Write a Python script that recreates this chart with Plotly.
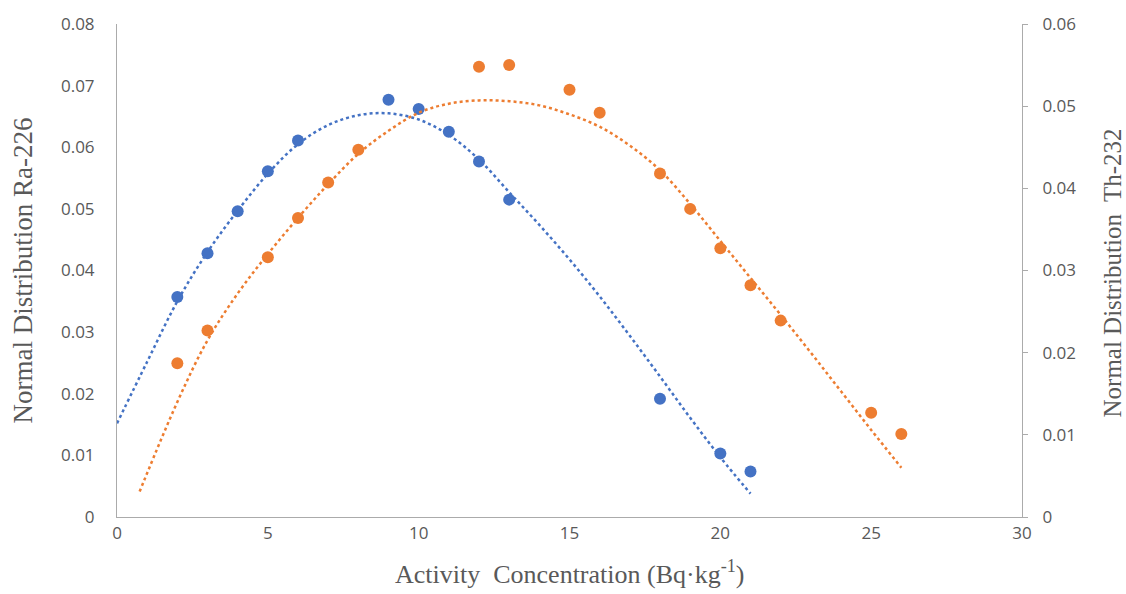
import plotly.graph_objects as go

# Ra-226 normal distribution values (left axis)
ra_x = [2, 3, 4, 5, 6, 9, 10, 11, 12, 13, 18, 20, 21]
ra_y = [0.0357, 0.0428, 0.0496, 0.0561, 0.0611, 0.0677, 0.0662, 0.0625,
        0.0577, 0.0515, 0.0192, 0.0103, 0.0074]

# Th-232 normal distribution values (right axis)
th_x = [2, 3, 5, 6, 7, 8, 12, 13, 15, 16, 18, 19, 20, 21, 22, 25, 26]
th_y = [0.0187, 0.0227, 0.0316, 0.0364, 0.0407, 0.0447, 0.0548, 0.0550,
        0.0520, 0.0492, 0.0418, 0.0375, 0.0327, 0.0282, 0.0239, 0.0127, 0.0101]

# polynomial trendline values of each series
ra_trend_x = [0, 1, 2, 3, 4, 5, 6, 7, 8, 9, 10, 11, 12, 13, 14, 15, 16, 17,
              18, 19, 20, 21]
ra_trend_y = [0.0152, 0.0252, 0.0350, 0.0430, 0.0497, 0.0557, 0.0605, 0.0636,
              0.0652, 0.0655, 0.0645, 0.0620, 0.0580, 0.0527, 0.0474, 0.0418,
              0.0358, 0.0294, 0.0228, 0.0161, 0.0097, 0.0038]
th_trend_x = [0.75, 2, 3, 4, 5, 6, 7, 8, 9, 10, 11, 12, 13, 14, 15, 16, 17,
              18, 19, 20, 21, 22, 23, 24, 25, 26]
th_trend_y = [0.0031, 0.0140, 0.0215, 0.0272, 0.0320, 0.0364, 0.0405, 0.0442,
              0.0470, 0.0492, 0.0503, 0.0507, 0.0506, 0.0501, 0.0490, 0.0475,
              0.0452, 0.0422, 0.0381, 0.0336, 0.0291, 0.0246, 0.0200, 0.0153,
              0.0106, 0.0060]

x_ticks = [0, 5, 10, 15, 20, 25, 30]
left_ticks = [0, 0.01, 0.02, 0.03, 0.04, 0.05, 0.06, 0.07, 0.08]
right_ticks = [0, 0.01, 0.02, 0.03, 0.04, 0.05, 0.06]

BLUE = "#4472C4"
ORANGE = "#ED7D31"
GREY_TEXT = "#595959"
AXIS_GREY = "#ABABAB"

fig = go.Figure()
fig.add_trace(go.Scatter(x=ra_trend_x, y=ra_trend_y, mode="lines",
                         line=dict(color=BLUE, width=2.5, dash="dot",
                                   shape="spline", smoothing=1.0),
                         yaxis="y", showlegend=False, hoverinfo="skip"))
fig.add_trace(go.Scatter(x=th_trend_x, y=th_trend_y, mode="lines",
                         line=dict(color=ORANGE, width=2.5, dash="dot",
                                   shape="spline", smoothing=1.0),
                         yaxis="y2", showlegend=False, hoverinfo="skip"))
fig.add_trace(go.Scatter(x=ra_x, y=ra_y, mode="markers", name="Ra-226",
                         marker=dict(color=BLUE, size=12), yaxis="y",
                         showlegend=False))
fig.add_trace(go.Scatter(x=th_x, y=th_y, mode="markers", name="Th-232",
                         marker=dict(color=ORANGE, size=12), yaxis="y2",
                         showlegend=False))

tick_font = dict(family="Open Sans, sans-serif", size=17, color=GREY_TEXT)
serif = "Liberation Serif, Times New Roman, serif"

fig.update_layout(
    width=1126, height=594,
    margin=dict(l=117, r=104, t=22, b=77),
    paper_bgcolor="white", plot_bgcolor="white",
    xaxis=dict(range=[0, 30], tickvals=x_ticks, showgrid=False,
               zeroline=False, showline=True, linecolor=AXIS_GREY,
               linewidth=1, ticks="", ticklabelstandoff=1,
               tickfont=tick_font),
    yaxis=dict(range=[0, 0.08], tickvals=left_ticks,
               ticktext=[f"{v:g}" for v in left_ticks],
               showgrid=False, zeroline=False, showline=True,
               linecolor=AXIS_GREY, linewidth=1, ticks="",
               ticklabelstandoff=18, tickfont=tick_font),
    yaxis2=dict(range=[0, 0.06], tickvals=right_ticks,
                ticktext=[f"{v:g}" for v in right_ticks],
                overlaying="y", side="right", showgrid=False, zeroline=False,
                showline=True, linecolor=AXIS_GREY, linewidth=1,
                ticks="outside", ticklen=5, tickcolor=AXIS_GREY,
                ticklabelstandoff=11, tickfont=tick_font),
    annotations=[
        dict(text="Activity  Concentration (Bq·kg<sup>-1</sup>)",
             xref="paper", yref="paper", x=0.5, y=0, yshift=-55,
             xanchor="center", yanchor="middle", showarrow=False,
             font=dict(family=serif, size=26, color=GREY_TEXT)),
        dict(text="Normal Distribution Ra-226", textangle=-90,
             xref="paper", yref="paper", x=0, y=0.5, xshift=-95,
             yshift=0, xanchor="center", yanchor="middle",
             showarrow=False,
             font=dict(family=serif, size=27, color=GREY_TEXT)),
        dict(text="Normal Distribution  Th-232", textangle=-90,
             xref="paper", yref="paper", x=1, y=0.5, xshift=90,
             yshift=-3, xanchor="center", yanchor="middle",
             showarrow=False,
             font=dict(family=serif, size=25, color=GREY_TEXT)),
    ],
)

fig.write_html("out.html")
